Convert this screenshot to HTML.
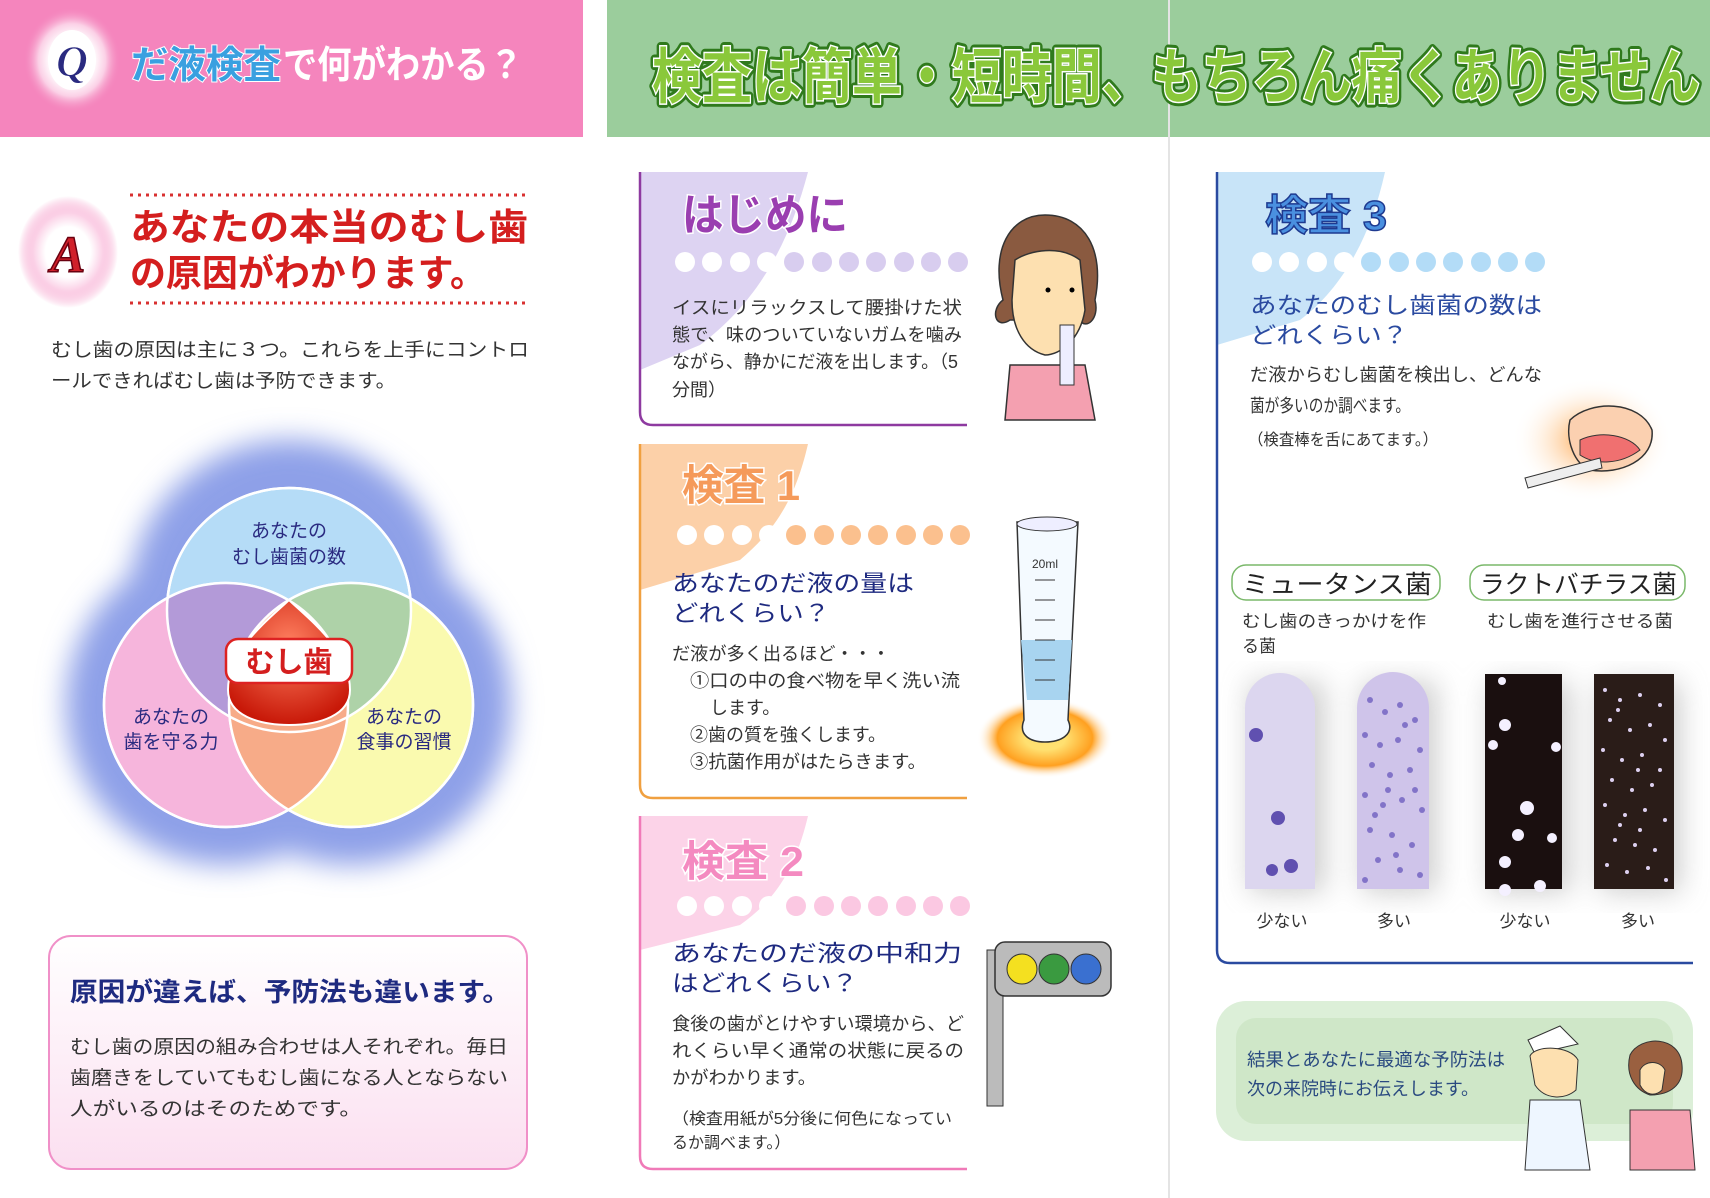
<!DOCTYPE html>
<html><head><meta charset="utf-8">
<style>
html,body{margin:0;padding:0;background:#fff;}
body{width:1710px;height:1198px;overflow:hidden;}
svg{display:block;}
text{font-family:"Liberation Sans","Noto Sans CJK JP",sans-serif;}
</style></head><body>
<svg width="1710" height="1198" viewBox="0 0 1710 1198" xmlns="http://www.w3.org/2000/svg">
<defs>
<radialGradient id="glow" cx="50%" cy="50%" r="50%">
<stop offset="0.75" stop-color="#7f95e0"/><stop offset="1" stop-color="#ffffff" stop-opacity="0"/>
</radialGradient>
<radialGradient id="qg" cx="50%" cy="50%" r="50%">
<stop offset="0.45" stop-color="#fff"/><stop offset="0.7" stop-color="#fbd0e6"/><stop offset="1" stop-color="#f48cc0" stop-opacity="0"/>
</radialGradient>
<radialGradient id="orangeGlow" cx="50%" cy="50%" r="50%">
<stop offset="0.3" stop-color="#ffe070"/><stop offset="0.7" stop-color="#ffa020"/><stop offset="1" stop-color="#ffffff" stop-opacity="0"/>
</radialGradient>
<radialGradient id="mouthGlow" cx="50%" cy="50%" r="50%">
<stop offset="0.2" stop-color="#ffc080"/><stop offset="1" stop-color="#ffffff" stop-opacity="0"/>
</radialGradient>
<radialGradient id="drop" cx="50%" cy="35%" r="65%">
<stop offset="0" stop-color="#ff8060"/><stop offset="1" stop-color="#c81808"/>
</radialGradient>
<filter id="blur"><feGaussianBlur stdDeviation="14"/></filter>
<linearGradient id="pinkbox" x1="0" y1="0" x2="0" y2="1"><stop offset="0" stop-color="#fff"/><stop offset="1" stop-color="#fbdff0"/></linearGradient>
</defs>

<!-- headers -->
<rect x="0" y="0" width="583" height="137" fill="#f585bd"/>
<rect x="607" y="0" width="1103" height="137" fill="#9bcd9c"/>
<line x1="1169" y1="0" x2="1169" y2="1198" stroke="#e4e4e4" stroke-width="2"/>
<ellipse cx="72" cy="60" rx="48" ry="52" fill="url(#qg)"/>
<ellipse cx="72" cy="60" rx="24" ry="30" fill="#fff"/>
<text x="72" y="76" text-anchor="middle" font-size="44" font-weight="bold" font-style="italic" fill="#2a2a80" stroke="#fff" stroke-width="1" style="font-family:'Liberation Serif',serif">Q</text>
<text x="131" y="78" font-size="38" font-weight="bold" fill="#3aa0e0" stroke="#fff" stroke-width="2" paint-order="stroke" textLength="150" lengthAdjust="spacingAndGlyphs">だ液検査</text>
<text x="283" y="78" font-size="38" font-weight="bold" fill="#fff" textLength="240" lengthAdjust="spacingAndGlyphs">で何がわかる？</text>
<text x="652" y="98" font-size="60" font-weight="bold" fill="#8ac83a" stroke="#2f7a1c" stroke-width="9" paint-order="stroke" stroke-linejoin="round" textLength="1048" lengthAdjust="spacingAndGlyphs">検査は簡単・短時間、もちろん痛くありません</text>
<text x="652" y="98" font-size="60" font-weight="bold" fill="#8ac83a" stroke="#fff" stroke-width="3" paint-order="stroke" textLength="1048" lengthAdjust="spacingAndGlyphs">検査は簡単・短時間、もちろん痛くありません</text>

<!-- A section -->
<ellipse cx="68" cy="252" rx="50" ry="56" fill="url(#qg)"/>
<text x="68" y="272" text-anchor="middle" font-size="52" font-weight="bold" font-style="italic" fill="#d0202a" stroke="#6a0010" stroke-width="1.5" style="font-family:'Liberation Serif',serif">A</text>
<line x1="130" y1="195" x2="528" y2="195" stroke="#d83030" stroke-width="3" stroke-dasharray="3 5"/>
<line x1="130" y1="303" x2="528" y2="303" stroke="#d83030" stroke-width="3" stroke-dasharray="3 5"/>
<text x="130" y="240" font-size="37" font-weight="bold" fill="#d41e1e" textLength="398" lengthAdjust="spacingAndGlyphs">あなたの本当のむし歯</text>
<text x="130" y="286" font-size="37" font-weight="bold" fill="#d41e1e" textLength="356" lengthAdjust="spacingAndGlyphs">の原因がわかります。</text>
<text x="51" y="356" font-size="19" fill="#333" textLength="478" lengthAdjust="spacingAndGlyphs">むし歯の原因は主に３つ。これらを上手にコントロ</text>
<text x="51" y="387" font-size="19" fill="#333" textLength="345" lengthAdjust="spacingAndGlyphs">ールできればむし歯は予防できます。</text>

<!-- venn -->
<g filter="url(#blur)" fill="#8ea0e8">
<circle cx="289" cy="600" r="160"/><circle cx="226" cy="705" r="160"/><circle cx="351" cy="705" r="160"/>
</g>
<g stroke="#fff" stroke-width="2.5">
<circle cx="289" cy="610" r="122" fill="#b5dcf7"/>
<circle cx="226" cy="705" r="122" fill="#f6b5dc"/>
<circle cx="351" cy="705" r="122" fill="#fafaaf"/>
</g>
<clipPath id="cT"><circle cx="289" cy="610" r="122"/></clipPath>
<clipPath id="cL"><circle cx="226" cy="705" r="122"/></clipPath>
<circle cx="226" cy="705" r="122" fill="#b39ad8" clip-path="url(#cT)"/>
<circle cx="351" cy="705" r="122" fill="#aed2a8" clip-path="url(#cT)"/>
<circle cx="351" cy="705" r="122" fill="#f7ab88" clip-path="url(#cL)"/>
<g fill="none" stroke="#fff" stroke-width="2.5">
<circle cx="289" cy="610" r="122"/><circle cx="226" cy="705" r="122"/><circle cx="351" cy="705" r="122"/>
</g>
<path d="M289 600 C310 620 350 650 350 690 C350 715 320 725 289 725 C258 725 228 715 228 690 C228 650 268 620 289 600 Z" fill="url(#drop)" stroke="#fff" stroke-width="2"/>
<rect x="226" y="639" width="126" height="44" rx="12" fill="#fff" stroke="#d22" stroke-width="2.5"/>
<text x="289" y="672" text-anchor="middle" font-size="29" font-weight="bold" fill="#d41e1e">むし歯</text>
<g font-size="19" fill="#2a2a80" text-anchor="middle">
<text x="289" y="537">あなたの</text><text x="289" y="563">むし歯菌の数</text>
<text x="171" y="723">あなたの</text><text x="171" y="748">歯を守る力</text>
<text x="404" y="723">あなたの</text><text x="404" y="748">食事の習慣</text>
</g>

<!-- bottom-left box -->
<rect x="49" y="936" width="478" height="233" rx="22" fill="url(#pinkbox)" stroke="#f090c8" stroke-width="2"/>
<text x="70" y="1001" font-size="26" font-weight="bold" fill="#1e2a80" textLength="440" lengthAdjust="spacingAndGlyphs">原因が違えば、予防法も違います。</text>
<g font-size="19" fill="#333">
<text x="70" y="1053" textLength="438" lengthAdjust="spacingAndGlyphs">むし歯の原因の組み合わせは人それぞれ。毎日</text>
<text x="70" y="1084" textLength="438" lengthAdjust="spacingAndGlyphs">歯磨きをしていてもむし歯になる人とならない</text>
<text x="70" y="1115" textLength="292" lengthAdjust="spacingAndGlyphs">人がいるのはそのためです。</text>
</g>

<!-- はじめに -->
<clipPath id="c1"><rect x="640" y="172" width="330" height="255"/></clipPath>
<path d="M640 172 L808 172 C790 240 760 300 700 345 L640 370 Z" fill="#ddd3f2"/>
<path d="M640 172 L640 412 Q640 425 653 425 L967 425" fill="none" stroke="#8e3aa0" stroke-width="2.5"/>
<text x="682" y="230" font-size="44" font-weight="bold" fill="#9a3eb0" stroke="#fff" stroke-width="3" paint-order="stroke" textLength="166" lengthAdjust="spacingAndGlyphs">はじめに</text>
<g fill="#fff"><circle cx="685" cy="262" r="10"/><circle cx="712" cy="262" r="10"/><circle cx="740" cy="262" r="10"/><circle cx="767" cy="262" r="10"/></g>
<g fill="#d8cdef"><circle cx="794" cy="262" r="10"/><circle cx="822" cy="262" r="10"/><circle cx="849" cy="262" r="10"/><circle cx="876" cy="262" r="10"/><circle cx="904" cy="262" r="10"/><circle cx="931" cy="262" r="10"/><circle cx="958" cy="262" r="10"/></g>
<g font-size="18" fill="#333">
<text x="672" y="314" textLength="290" lengthAdjust="spacingAndGlyphs">イスにリラックスして腰掛けた状</text>
<text x="672" y="341" textLength="290" lengthAdjust="spacingAndGlyphs">態で、味のついていないガムを噛み</text>
<text x="672" y="368" textLength="286" lengthAdjust="spacingAndGlyphs">ながら、静かにだ液を出します。（5</text>
<text x="672" y="396">分間）</text>
</g>
<!-- woman -->
<path d="M1003 300 C990 250 1010 215 1045 215 C1085 215 1105 250 1095 300 C1100 320 1085 330 1080 320 L1010 320 C995 330 990 310 1003 300 Z" fill="#8a5a40" stroke="#333" stroke-width="1.5"/>
<path d="M1015 260 C1030 250 1060 245 1080 260 L1085 310 C1080 340 1060 355 1045 355 C1025 350 1012 330 1012 300 Z" fill="#fde0b0" stroke="#333" stroke-width="1.5"/>
<path d="M1010 365 L1085 365 L1095 420 L1005 420 Z" fill="#f4a0b0" stroke="#333" stroke-width="1.5"/>
<rect x="1060" y="325" width="14" height="60" fill="#eef" stroke="#333"/>
<circle cx="1048" cy="290" r="2.5"/><circle cx="1072" cy="290" r="2.5"/>

<!-- 検査1 -->
<path d="M640 444 L808 444 C795 500 775 530 740 560 L640 590 Z" fill="#fcd0a8"/>
<path d="M640 444 L640 785 Q640 798 653 798 L967 798" fill="none" stroke="#f0a040" stroke-width="2.5"/>
<text x="682" y="500" font-size="42" font-weight="bold" fill="#f59a5a" stroke="#fff" stroke-width="3" paint-order="stroke" textLength="118" lengthAdjust="spacingAndGlyphs">検査 1</text>
<g fill="#fff"><circle cx="687" cy="535" r="10"/><circle cx="714" cy="535" r="10"/><circle cx="742" cy="535" r="10"/><circle cx="769" cy="535" r="10"/></g>
<g fill="#fbc08e"><circle cx="796" cy="535" r="10"/><circle cx="824" cy="535" r="10"/><circle cx="851" cy="535" r="10"/><circle cx="878" cy="535" r="10"/><circle cx="906" cy="535" r="10"/><circle cx="933" cy="535" r="10"/><circle cx="960" cy="535" r="10"/></g>
<g font-size="23" fill="#1e2a80"><text x="672" y="591" textLength="242" lengthAdjust="spacingAndGlyphs">あなたのだ液の量は</text><text x="672" y="621" textLength="158" lengthAdjust="spacingAndGlyphs">どれくらい？</text></g>
<g font-size="18" fill="#333">
<text x="672" y="660" textLength="218" lengthAdjust="spacingAndGlyphs">だ液が多く出るほど・・・</text>
<text x="690" y="687" textLength="270" lengthAdjust="spacingAndGlyphs">①口の中の食べ物を早く洗い流</text>
<text x="710" y="714">します。</text>
<text x="690" y="741" textLength="196" lengthAdjust="spacingAndGlyphs">②歯の質を強くします。</text>
<text x="690" y="768" textLength="236" lengthAdjust="spacingAndGlyphs">③抗菌作用がはたらきます。</text>
</g>
<ellipse cx="1045" cy="738" rx="68" ry="40" fill="url(#orangeGlow)"/>
<path d="M1017 522 L1078 522 L1068 720 C1075 735 1060 742 1045 742 C1030 742 1018 735 1024 720 Z" fill="#f4faff" stroke="#333" stroke-width="1.5"/>
<path d="M1021 640 L1072 640 L1068 700 L1027 700 Z" fill="#a8d4f0"/>
<ellipse cx="1047" cy="524" rx="30" ry="7" fill="#eef" stroke="#333"/>
<text x="1032" y="568" font-size="12" fill="#333">20ml</text>
<g stroke="#333" stroke-width="1"><line x1="1035" y1="580" x2="1055" y2="580"/><line x1="1035" y1="600" x2="1055" y2="600"/><line x1="1035" y1="620" x2="1055" y2="620"/><line x1="1035" y1="640" x2="1055" y2="640"/><line x1="1035" y1="660" x2="1055" y2="660"/><line x1="1035" y1="680" x2="1055" y2="680"/></g>

<!-- 検査2 -->
<path d="M640 816 L808 816 C795 870 775 900 740 925 L640 950 Z" fill="#fcd3e8"/>
<path d="M640 816 L640 1156 Q640 1169 653 1169 L967 1169" fill="none" stroke="#f07ab8" stroke-width="2.5"/>
<text x="682" y="876" font-size="42" font-weight="bold" fill="#f48ac0" stroke="#fff" stroke-width="3" paint-order="stroke" textLength="122" lengthAdjust="spacingAndGlyphs">検査 2</text>
<g fill="#fff"><circle cx="687" cy="906" r="10"/><circle cx="714" cy="906" r="10"/><circle cx="742" cy="906" r="10"/><circle cx="769" cy="906" r="10"/></g>
<g fill="#fbc8e2"><circle cx="796" cy="906" r="10"/><circle cx="824" cy="906" r="10"/><circle cx="851" cy="906" r="10"/><circle cx="878" cy="906" r="10"/><circle cx="906" cy="906" r="10"/><circle cx="933" cy="906" r="10"/><circle cx="960" cy="906" r="10"/></g>
<g font-size="23" fill="#1e2a80"><text x="672" y="961" textLength="290" lengthAdjust="spacingAndGlyphs">あなたのだ液の中和力</text><text x="672" y="991" textLength="186" lengthAdjust="spacingAndGlyphs">はどれくらい？</text></g>
<g font-size="18" fill="#333">
<text x="672" y="1030" textLength="292" lengthAdjust="spacingAndGlyphs">食後の歯がとけやすい環境から、ど</text>
<text x="672" y="1057" textLength="292" lengthAdjust="spacingAndGlyphs">れくらい早く通常の状態に戻るの</text>
<text x="672" y="1084" textLength="144" lengthAdjust="spacingAndGlyphs">かがわかります。</text>
<text x="672" y="1124" font-size="16" textLength="280" lengthAdjust="spacingAndGlyphs">（検査用紙が5分後に何色になってい</text>
<text x="672" y="1148" font-size="16">るか調べます。）</text>
</g>
<rect x="987" y="950" width="16" height="156" fill="#bbb" stroke="#333"/>
<rect x="995" y="942" width="116" height="54" rx="10" fill="#bbb" stroke="#333" stroke-width="1.5"/>
<circle cx="1022" cy="969" r="15" fill="#f4e020" stroke="#333"/><circle cx="1054" cy="969" r="15" fill="#3a9a40" stroke="#333"/><circle cx="1086" cy="969" r="15" fill="#3a70d0" stroke="#333"/>

<!-- 検査3 -->
<path d="M1217 172 L1385 172 C1370 240 1340 290 1300 320 L1217 345 Z" fill="#c8e4f8"/>
<path d="M1217 172 L1217 950 Q1217 963 1230 963 L1693 963" fill="none" stroke="#2a4aa0" stroke-width="2.5"/>
<text x="1265" y="230" font-size="42" font-weight="bold" fill="#4a90e0" stroke="#1e3a90" stroke-width="1.5" textLength="122" lengthAdjust="spacingAndGlyphs">検査 3</text>
<g fill="#fff"><circle cx="1262" cy="262" r="10"/><circle cx="1289" cy="262" r="10"/><circle cx="1317" cy="262" r="10"/><circle cx="1344" cy="262" r="10"/></g>
<g fill="#b3dcf7"><circle cx="1371" cy="262" r="10"/><circle cx="1399" cy="262" r="10"/><circle cx="1426" cy="262" r="10"/><circle cx="1453" cy="262" r="10"/><circle cx="1481" cy="262" r="10"/><circle cx="1508" cy="262" r="10"/><circle cx="1535" cy="262" r="10"/></g>
<g font-size="23" fill="#2a4aa0"><text x="1250" y="313" textLength="292" lengthAdjust="spacingAndGlyphs">あなたのむし歯菌の数は</text><text x="1250" y="343" textLength="158" lengthAdjust="spacingAndGlyphs">どれくらい？</text></g>
<g font-size="18" fill="#333">
<text x="1250" y="381" textLength="292" lengthAdjust="spacingAndGlyphs">だ液からむし歯菌を検出し、どんな</text>
<text x="1250" y="412" textLength="160" lengthAdjust="spacingAndGlyphs">菌が多いのか調べます。</text>
<text x="1248" y="445" font-size="16" textLength="190" lengthAdjust="spacingAndGlyphs">（検査棒を舌にあてます。）</text>
</g>
<ellipse cx="1592" cy="440" rx="80" ry="62" fill="url(#mouthGlow)"/>
<path d="M1570 420 C1590 400 1640 400 1652 430 C1655 460 1620 475 1590 470 C1575 465 1565 440 1570 420 Z" fill="#fbd0b0" stroke="#333" stroke-width="1.5"/>
<path d="M1580 440 C1600 430 1630 435 1640 450 C1620 465 1595 465 1580 455 Z" fill="#f07070" stroke="#333"/>
<path d="M1525 478 L1600 458 L1602 468 L1528 488 Z" fill="#eee" stroke="#333"/>

<rect x="1232" y="565" width="208" height="35" rx="14" fill="#fff" stroke="#7ab86a" stroke-width="1.5"/>
<rect x="1470" y="565" width="215" height="35" rx="14" fill="#fff" stroke="#7ab86a" stroke-width="1.5"/>
<text x="1242" y="593" font-size="25" fill="#222" textLength="190" lengthAdjust="spacingAndGlyphs">ミュータンス菌</text>
<text x="1480" y="593" font-size="25" fill="#222" textLength="197" lengthAdjust="spacingAndGlyphs">ラクトバチラス菌</text>
<g font-size="17" fill="#333">
<text x="1242" y="627" textLength="184" lengthAdjust="spacingAndGlyphs">むし歯のきっかけを作</text>
<text x="1242" y="652">る菌</text>
<text x="1487" y="627" textLength="186" lengthAdjust="spacingAndGlyphs">むし歯を進行させる菌</text>
</g>
<g fill="#999" opacity="0.5" filter="url(#blur)"><rect x="1250" y="682" width="74" height="210"/><rect x="1362" y="682" width="74" height="210"/><rect x="1490" y="682" width="80" height="210"/><rect x="1600" y="682" width="80" height="210"/></g>
<path d="M1245 889 L1245 708 A35 35 0 0 1 1315 708 L1315 889 Z" fill="#dcd6ef"/>
<path d="M1357 889 L1357 708 A36 36 0 0 1 1429 708 L1429 889 Z" fill="#cfc4ea"/>
<g fill="#6050b0"><circle cx="1256" cy="735" r="7"/><circle cx="1278" cy="818" r="7"/><circle cx="1272" cy="870" r="6"/><circle cx="1291" cy="866" r="7"/></g>
<g fill="#7060c0" opacity="0.8">
<circle cx="1370" cy="700" r="3"/><circle cx="1385" cy="712" r="3"/><circle cx="1400" cy="705" r="3"/><circle cx="1415" cy="720" r="3"/><circle cx="1365" cy="735" r="3"/><circle cx="1380" cy="745" r="3"/><circle cx="1398" cy="740" r="3"/><circle cx="1420" cy="750" r="3"/><circle cx="1372" cy="765" r="3"/><circle cx="1390" cy="775" r="3"/><circle cx="1410" cy="770" r="3"/><circle cx="1365" cy="795" r="3"/><circle cx="1383" cy="805" r="3"/><circle cx="1402" cy="800" r="3"/><circle cx="1422" cy="810" r="3"/><circle cx="1370" cy="830" r="3"/><circle cx="1392" cy="835" r="3"/><circle cx="1412" cy="845" r="3"/><circle cx="1378" cy="860" r="3"/><circle cx="1400" cy="870" r="3"/><circle cx="1420" cy="875" r="3"/><circle cx="1365" cy="880" r="3"/><circle cx="1405" cy="725" r="3"/><circle cx="1388" cy="790" r="3"/><circle cx="1415" cy="790" r="3"/><circle cx="1375" cy="815" r="3"/><circle cx="1396" cy="855" r="3"/>
</g>
<rect x="1485" y="674" width="77" height="215" fill="#1a0f0f"/>
<rect x="1594" y="674" width="80" height="215" fill="#2a1c18"/>
<g fill="#f4f0ff"><circle cx="1502" cy="681" r="4"/><circle cx="1505" cy="725" r="6"/><circle cx="1493" cy="745" r="5"/><circle cx="1556" cy="747" r="5"/><circle cx="1527" cy="808" r="7"/><circle cx="1518" cy="835" r="6"/><circle cx="1552" cy="838" r="5"/><circle cx="1505" cy="862" r="6"/><circle cx="1505" cy="890" r="6"/><circle cx="1540" cy="886" r="6"/></g>
<g fill="#ddd0f0">
<circle cx="1605" cy="690" r="2"/><circle cx="1620" cy="700" r="2"/><circle cx="1640" cy="695" r="2"/><circle cx="1660" cy="705" r="2"/><circle cx="1610" cy="720" r="2"/><circle cx="1630" cy="730" r="2"/><circle cx="1650" cy="725" r="2"/><circle cx="1665" cy="740" r="2"/><circle cx="1603" cy="750" r="2"/><circle cx="1622" cy="760" r="2"/><circle cx="1642" cy="755" r="2"/><circle cx="1660" cy="770" r="2"/><circle cx="1612" cy="780" r="2"/><circle cx="1632" cy="790" r="2"/><circle cx="1652" cy="785" r="2"/><circle cx="1605" cy="805" r="2"/><circle cx="1625" cy="815" r="2"/><circle cx="1645" cy="810" r="2"/><circle cx="1665" cy="820" r="2"/><circle cx="1615" cy="840" r="2"/><circle cx="1635" cy="845" r="2"/><circle cx="1655" cy="850" r="2"/><circle cx="1607" cy="865" r="2"/><circle cx="1627" cy="872" r="2"/><circle cx="1648" cy="868" r="2"/><circle cx="1666" cy="880" r="2"/><circle cx="1618" cy="710" r="2"/><circle cx="1638" cy="770" r="2"/><circle cx="1620" cy="825" r="2"/><circle cx="1640" cy="830" r="2"/>
</g>
<g font-size="17" fill="#333" text-anchor="middle">
<text x="1282" y="927">少ない</text><text x="1394" y="927">多い</text><text x="1525" y="927">少ない</text><text x="1638" y="927">多い</text>
</g>

<!-- bottom green -->
<rect x="1216" y="1001" width="477" height="140" rx="30" fill="#dcefd8"/>
<rect x="1236" y="1018" width="437" height="106" rx="20" fill="#cfe7c8"/>
<g font-size="18" fill="#2a4a80">
<text x="1247" y="1066" textLength="258" lengthAdjust="spacingAndGlyphs">結果とあなたに最適な予防法は</text>
<text x="1247" y="1095" textLength="232" lengthAdjust="spacingAndGlyphs">次の来院時にお伝えします。</text>
</g>
<path d="M1528 1040 L1560 1026 L1578 1044 L1535 1054 Z" fill="#fff" stroke="#333"/>
<path d="M1530 1056 C1535 1045 1570 1045 1578 1060 L1576 1090 C1565 1100 1545 1100 1535 1085 Z" fill="#fde0b0" stroke="#333"/>
<path d="M1530 1100 L1580 1100 L1590 1170 L1525 1170 Z" fill="#eef6ff" stroke="#333"/>
<path d="M1630 1055 C1640 1035 1680 1035 1682 1065 C1684 1085 1670 1095 1650 1095 C1635 1090 1625 1075 1630 1055 Z" fill="#9a6040" stroke="#333"/>
<path d="M1640 1070 C1645 1060 1660 1060 1665 1070 L1662 1090 C1655 1097 1645 1095 1640 1085 Z" fill="#fde0b0" stroke="#333"/>
<path d="M1630 1110 L1690 1110 L1695 1170 L1630 1170 Z" fill="#f4a0b0" stroke="#333"/>
</svg>
</body></html>
